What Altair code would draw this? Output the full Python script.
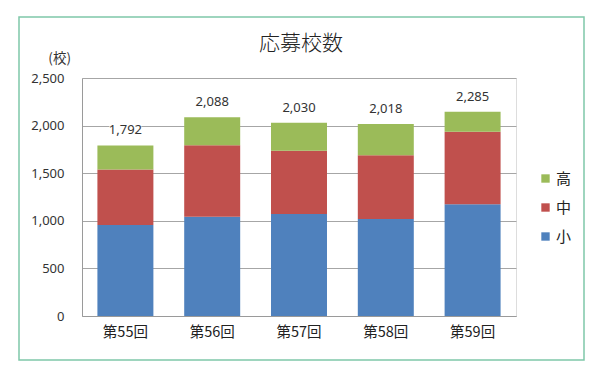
import altair as alt
import pandas as pd

rounds = ["第55回", "第56回", "第57回", "第58回", "第59回"]
series = ["高", "中", "小"]
colors = ["#9BBB59", "#C0504D", "#4F81BD"]
small = [955, 1043, 1071, 1019, 1173]
mid = [585, 750, 665, 669, 763]
high = [252, 295, 294, 330, 210]
total_labels = [1792, 2088, 2030, 2018, 2285]
y_ticks = [0, 500, 1000, 1500, 2000, 2500]

rows = []
for i, r in enumerate(rounds):
    for name, vals, order in (("小", small, 0), ("中", mid, 1), ("高", high, 2)):
        rows.append({"round": r, "series": name, "value": vals[i], "ord": order})
df = pd.DataFrame(rows)

tot = pd.DataFrame({
    "round": rounds,
    "top": [small[i] + mid[i] + high[i] for i in range(len(rounds))],
    "label": total_labels,
})

W, H = 434, 238
xscale = alt.Scale(domain=rounds, paddingInner=0.355, paddingOuter=0.1775)
yscale = alt.Scale(domain=[0, 2500], nice=False)

bars = alt.Chart(df).mark_bar().encode(
    x=alt.X("round:N", scale=xscale, sort=rounds, title=None,
            axis=alt.Axis(labelAngle=0, ticks=False, labelPadding=9,
                          labelFont="Noto Sans CJK JP", labelFontSize=14.5,
                          labelColor="#222222", domainColor="#9a9a9a")),
    y=alt.Y("value:Q", stack="zero", scale=yscale, title=None,
            axis=alt.Axis(values=y_ticks, format=",d", ticks=False, labelPadding=18,
                          labelFont="Noto Sans", labelFontSize=13, labelColor="#333333",
                          domainColor="#9a9a9a", gridColor="#a6a6a6", grid=True)),
    color=alt.Color("series:N", scale=alt.Scale(domain=series, range=colors),
                    legend=alt.Legend(title=None, orient="none", legendX=456, legendY=93,
                                      symbolType="square", symbolSize=70,
                                      symbolStrokeWidth=0, labelFont="Noto Sans CJK JP",
                                      labelFontSize=15, labelColor="#222222",
                                      rowPadding=13, labelOffset=3)),
    order=alt.Order("ord:Q", sort="ascending"),
)

label_bg = alt.Chart(tot).mark_point(
    shape="M-1,-0.45L1,-0.45L1,0.45L-1,0.45Z", filled=True, color="white",
    opacity=1, size=1024, yOffset=-15,
).encode(x=alt.X("round:N", scale=xscale, sort=rounds), y=alt.Y("top:Q", scale=yscale))

labels = alt.Chart(tot).mark_text(
    dy=-15, font="Noto Sans", fontSize=13, color="#333333", baseline="middle",
).encode(
    x=alt.X("round:N", scale=xscale, sort=rounds),
    y=alt.Y("top:Q", scale=yscale),
    text=alt.Text("label:Q", format=",d"),
)

title = alt.Chart(pd.DataFrame({"t": ["応募校数"]})).mark_text(
    font="Noto Sans CJK JP", fontSize=21, fontWeight=300, color="#222222", baseline="middle",
).encode(x=alt.value(219), y=alt.value(-34), text="t:N")

unit = alt.Chart(pd.DataFrame({"t": ["(校)"]})).mark_text(
    font="Noto Sans CJK JP", fontSize=13.5, color="#333333", baseline="middle", align="right",
).encode(x=alt.value(-11), y=alt.value(-19), text="t:N")

border = alt.Chart(pd.DataFrame({"a": [0]})).mark_rect(
    fill=None, stroke="#7fc8a9", strokeWidth=1.5, clip=False,
).encode(x=alt.value(-63), x2=alt.value(502), y=alt.value(-61), y2=alt.value(282))

chart = alt.layer(border, bars, label_bg, labels, title, unit).properties(
    width=W, height=H,
    autosize=alt.AutoSizeParams(type="none"),
    padding={"left": 82, "top": 78, "right": 84, "bottom": 60},
).configure_view(stroke=None).configure(background="white")

chart.save("out.html", embed_options={"renderer": "svg", "actions": False})
